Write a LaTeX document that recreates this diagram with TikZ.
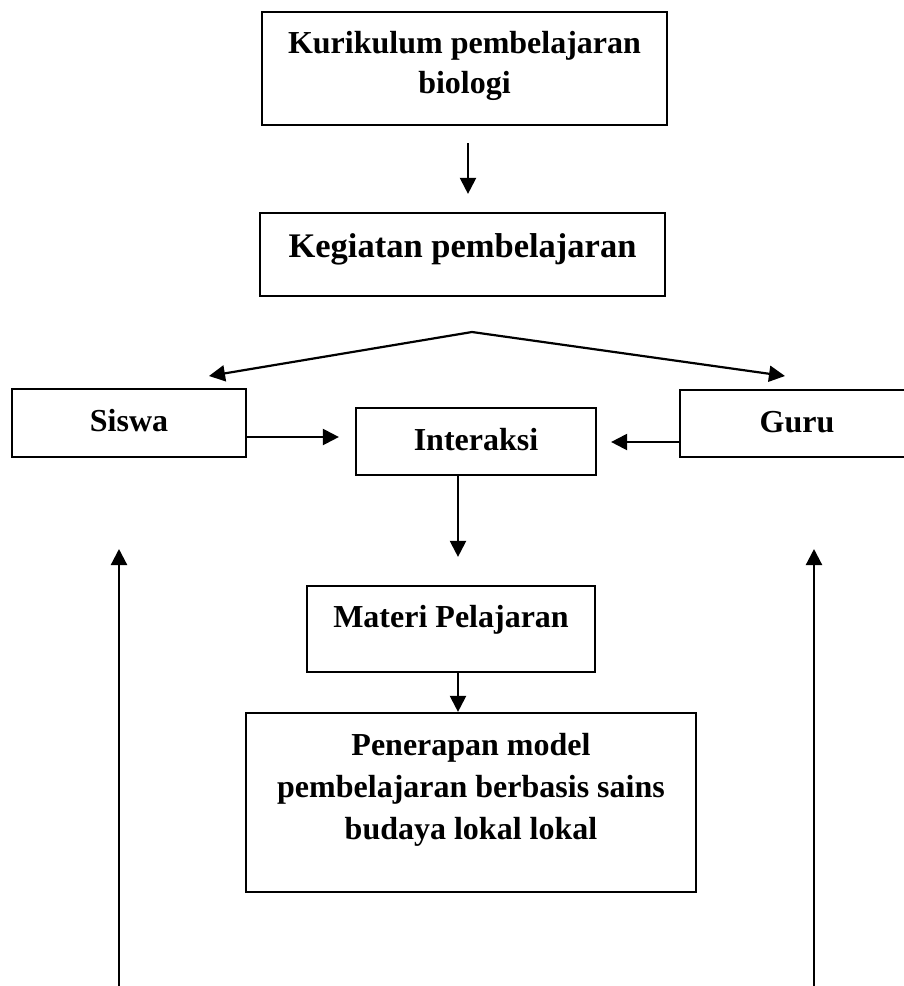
\documentclass[tikz,border=0pt]{standalone}
\usepackage{fontspec}
\setmainfont{Liberation Serif}
\usetikzlibrary{arrows.meta}
\begin{document}
\begin{tikzpicture}
    [
        x = 1pt, y = -1pt,
        every node/.style = {font=\bfseries\fontsize{32}{41}\selectfont},
        box/.style = {shape=rectangle, draw, line width=2.2pt, align=center,
        inner xsep=0pt, inner ysep=0pt},
        arr/.style = {line width=2.2pt, -{Triangle[length=16pt, width=16pt]}}
    ]
    \useasboundingbox (0,0) rectangle (904,986);
    \node[box, minimum width=405pt, text height=81pt, text depth=32pt,
        font=\bfseries\fontsize{32}{40}\selectfont] (kurikulum) at (464.5,68.5)
        {Kurikulum pembelajaran \\ biologi};
    \node[box, minimum width=405pt, text height=44pt, text depth=39pt,
        font=\bfseries\fontsize{34.5}{41}\selectfont] (kegiatan) at (462.5,254.5)
        {Kegiatan pembelajaran};
    \node[box, minimum width=234pt, text height=42pt, text depth=26pt] (siswa) at (129,423) {Siswa};
    \node[box, minimum width=240pt, text height=42pt, text depth=25pt] (interaksi) at (476,441.5) {Interaksi};
    \node[box, minimum width=234pt, text height=42pt, text depth=25pt] (guru) at (797,423.5) {Guru};
    \node[box, minimum width=288pt, text height=41pt, text depth=45pt] (materi) at (451,629) {Materi Pelajaran};
    \node[box, minimum width=450pt, text height=126pt, text depth=53pt,
        font=\bfseries\fontsize{32}{42}\selectfont] (penerapan) at (471,802.5)
        {Penerapan model \\ pembelajaran berbasis sains \\ budaya lokal lokal};
    % titik bebas
    \coordinate (cabang) at (472,332);
    \coordinate (keSiswa) at (209,376);
    \coordinate (keGuru) at (785,376);
    \coordinate (kiriBawah) at (119,986);
    \coordinate (kiriAtas) at (119,549);
    \coordinate (kananBawah) at (814,986);
    \coordinate (kananAtas) at (814,549);
    % panah
    \draw[arr, shorten <=17pt, shorten >=18pt] (kurikulum.south -| 468,0) -- (kegiatan.north -| 468,0);
    \draw[arr] (cabang) -- (keSiswa);
    \draw[arr] (cabang) -- (keGuru);
    \draw[arr, shorten >=16pt] (siswa.east |- 0,437) -- (interaksi.west |- 0,437);
    \draw[arr, shorten >=14pt] (guru.west |- 0,442) -- (interaksi.east |- 0,442);
    \draw[arr, shorten >=28pt] (interaksi.south -| 458,0) -- (materi.north -| 458,0);
    \draw[arr] (materi.south -| 458,0) -- (penerapan.north -| 458,0);
    \draw[arr] (kiriBawah) -- (kiriAtas);
    \draw[arr] (kananBawah) -- (kananAtas);
\end{tikzpicture}
\end{document}
